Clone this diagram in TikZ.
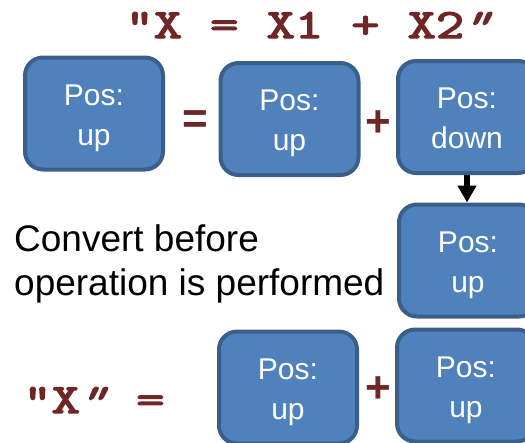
\documentclass[tikz,border=0pt]{standalone}
\usepackage{fontspec}
\usepackage{graphicx}
\setmainfont{Liberation Sans}
\newfontfamily\codefont[FakeBold=3.2]{Latin Modern Mono}
\newfontfamily\codeslant[FakeBold=3.2,FakeSlant=0.35]{Latin Modern Mono}
\usetikzlibrary{arrows.meta}
\definecolor{boxfill}{HTML}{4F81BD}
\definecolor{boxline}{HTML}{3A5F8B}
\definecolor{opred}{HTML}{6F2626}
\newcommand\codestr[1]{\scalebox{1.32}[1]{#1}}
\newcommand\closeq{\kern-3.5pt{\codeslant ”}\kern3.5pt}
\tikzset{
  posbox/.style={draw=boxline, fill=boxfill, line width=4pt, rounded corners=18pt,
    minimum width=138pt, minimum height=112pt, inner sep=0pt},
  postext/.style={text=white, align=center, inner sep=0pt,
    font=\fontsize{30}{40}\selectfont},
  opsign/.style={text=opred, inner sep=0pt, anchor=base,
    font=\fontsize{44}{44}\selectfont\bfseries},
  codetext/.style={text=opred, inner sep=0pt, anchor=base,
    font=\codefont\fontsize{41.5}{42}\selectfont},
  note/.style={text=black, align=left, inner sep=0pt, anchor=west,
    font=\fontsize{37}{44}\selectfont},
  convarrow/.style={draw=black, line width=6pt, -{Triangle[width=18pt,length=17pt]}}
}
\begin{document}
\begin{tikzpicture}[x=1pt,y=-1pt]
\useasboundingbox (0,0) rectangle (525,442);
\clip (0,0) rectangle (525,442);

% title
\node[codetext] (title) at (309,38) {\codestr{"X = X1 + X2\closeq}};

% top row
\node[posbox] (b1) at (94,113.5) {};
\node[posbox] (b2) at (289.5,119) {};
\node[posbox] (b3) at (467,117) {};
\node[postext] (t1) at ([yshift=-3.5pt]b1.center) {\strut Pos:\\\strut up};
\node[postext] (t2) at ([yshift=-3.5pt]b2.center) {\strut Pos:\\\strut up};
\node[postext] (t3) at ([yshift=-3.5pt]b3.center) {\strut Pos:\\\strut down};
\node[opsign] (eqA) at (195,133) {=};
\node[opsign] (plusA) at (378,136.5) {+};

% converted box
\node[posbox] (b4) at (468,260.5) {};
\node[postext] (t4) at ([yshift=-3.5pt]b4.center) {\strut Pos:\\\strut up};
\draw[convarrow] (b3.south) -- (b3.south |- b4.north);

\node[note] (conv) at (14,263.5) {Convert before\\operation is performed};

% bottom row
\node[codetext] (lhs) at (94,413) {\codestr{"X\closeq{} =}};
\node[posbox] (b5) at (288,387.5) {};
\node[posbox] (b6) at (466,385.5) {};
\node[postext] (t5) at ([yshift=-3.5pt]b5.center) {\strut Pos:\\\strut up};
\node[postext] (t6) at ([yshift=-3.5pt]b6.center) {\strut Pos:\\\strut up};
\node[opsign] (plusB) at (378,402.5) {+};
\end{tikzpicture}
\end{document}
